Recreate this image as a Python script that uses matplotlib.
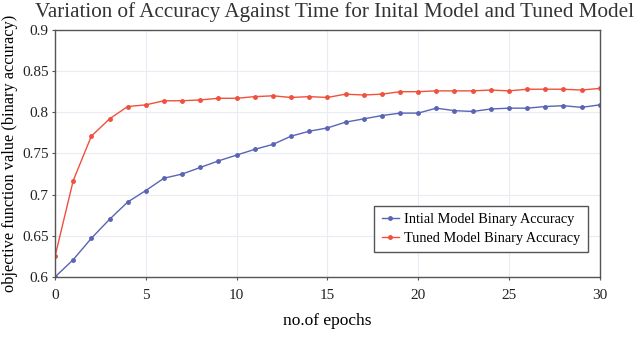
import matplotlib.pyplot as plt
from matplotlib.ticker import FuncFormatter

# data
epochs = list(range(31))
initial_acc = [0.600, 0.621, 0.647, 0.670, 0.691, 0.705, 0.720, 0.725, 0.733, 0.741,
               0.748, 0.755, 0.761, 0.771, 0.777, 0.781, 0.788, 0.792, 0.796, 0.799,
               0.799, 0.805, 0.802, 0.801, 0.804, 0.805, 0.805, 0.807, 0.808, 0.806,
               0.809]
tuned_acc = [0.625, 0.717, 0.771, 0.792, 0.807, 0.809, 0.814, 0.814, 0.815, 0.817,
             0.817, 0.819, 0.820, 0.818, 0.819, 0.818, 0.822, 0.821, 0.822, 0.825,
             0.825, 0.826, 0.826, 0.826, 0.827, 0.826, 0.828, 0.828, 0.828, 0.827,
             0.829]
y_ticks = [0.6, 0.65, 0.7, 0.75, 0.8, 0.85, 0.9]
x_ticks = [0, 5, 10, 15, 20, 25, 30]


def plot():
    plt.rcParams['font.family'] = ['Liberation Serif', 'DejaVu Serif']
    fig = plt.figure(figsize=(6.4, 3.48), dpi=100)
    ax = fig.add_axes([0.086, 0.204, 0.851, 0.71])

    ax.plot(epochs, initial_acc, '-o', color='#5a64b4', lw=1.0, ms=2.5,
            label='Intial Model Binary Accuracy')
    ax.plot(epochs, tuned_acc, '-o', color='#f0503c', lw=1.0, ms=2.5,
            label='Tuned Model Binary Accuracy')

    ax.set_xlim(0, 30)
    ax.set_ylim(0.6, 0.9)
    ax.set_xticks(x_ticks)
    ax.set_yticks(y_ticks)
    ax.yaxis.set_major_formatter(FuncFormatter(lambda v, p: '%g' % round(v, 2)))
    ax.grid(True, color='#ebebf5', lw=0.8)
    ax.set_axisbelow(True)
    for s in ax.spines.values():
        s.set_color('#555555')
        s.set_linewidth(1.0)
    ax.tick_params(direction='out', length=2.5, labelsize=11, colors='#222222',
                   color='#555555')
    ax.tick_params(axis='x', pad=6)
    ax.tick_params(axis='y', pad=2)

    ax.set_xlabel('no.of epochs', fontsize=12.5, labelpad=8)
    ax.set_ylabel('objective function value (binary accuracy)', fontsize=11.8,
                  labelpad=3)
    fig.text(0.523, 0.965,
             'Variation of Accuracy Against Time for Inital Model and Tuned Model',
             fontsize=15.2, color='#333333', ha='center', va='center')

    leg = ax.legend(loc='lower right', bbox_to_anchor=(0.978, 0.1), fontsize=10.3,
                    fancybox=False, framealpha=1, edgecolor='#555555',
                    handlelength=1.2, handletextpad=0.4, borderpad=0.5,
                    labelspacing=0.4, borderaxespad=0)
    leg.get_frame().set_linewidth(1.0)

    return fig, ax


def main():
    fig, ax = plot()
    fig.savefig('out.png', dpi=100)


if __name__ == '__main__':
    main()
